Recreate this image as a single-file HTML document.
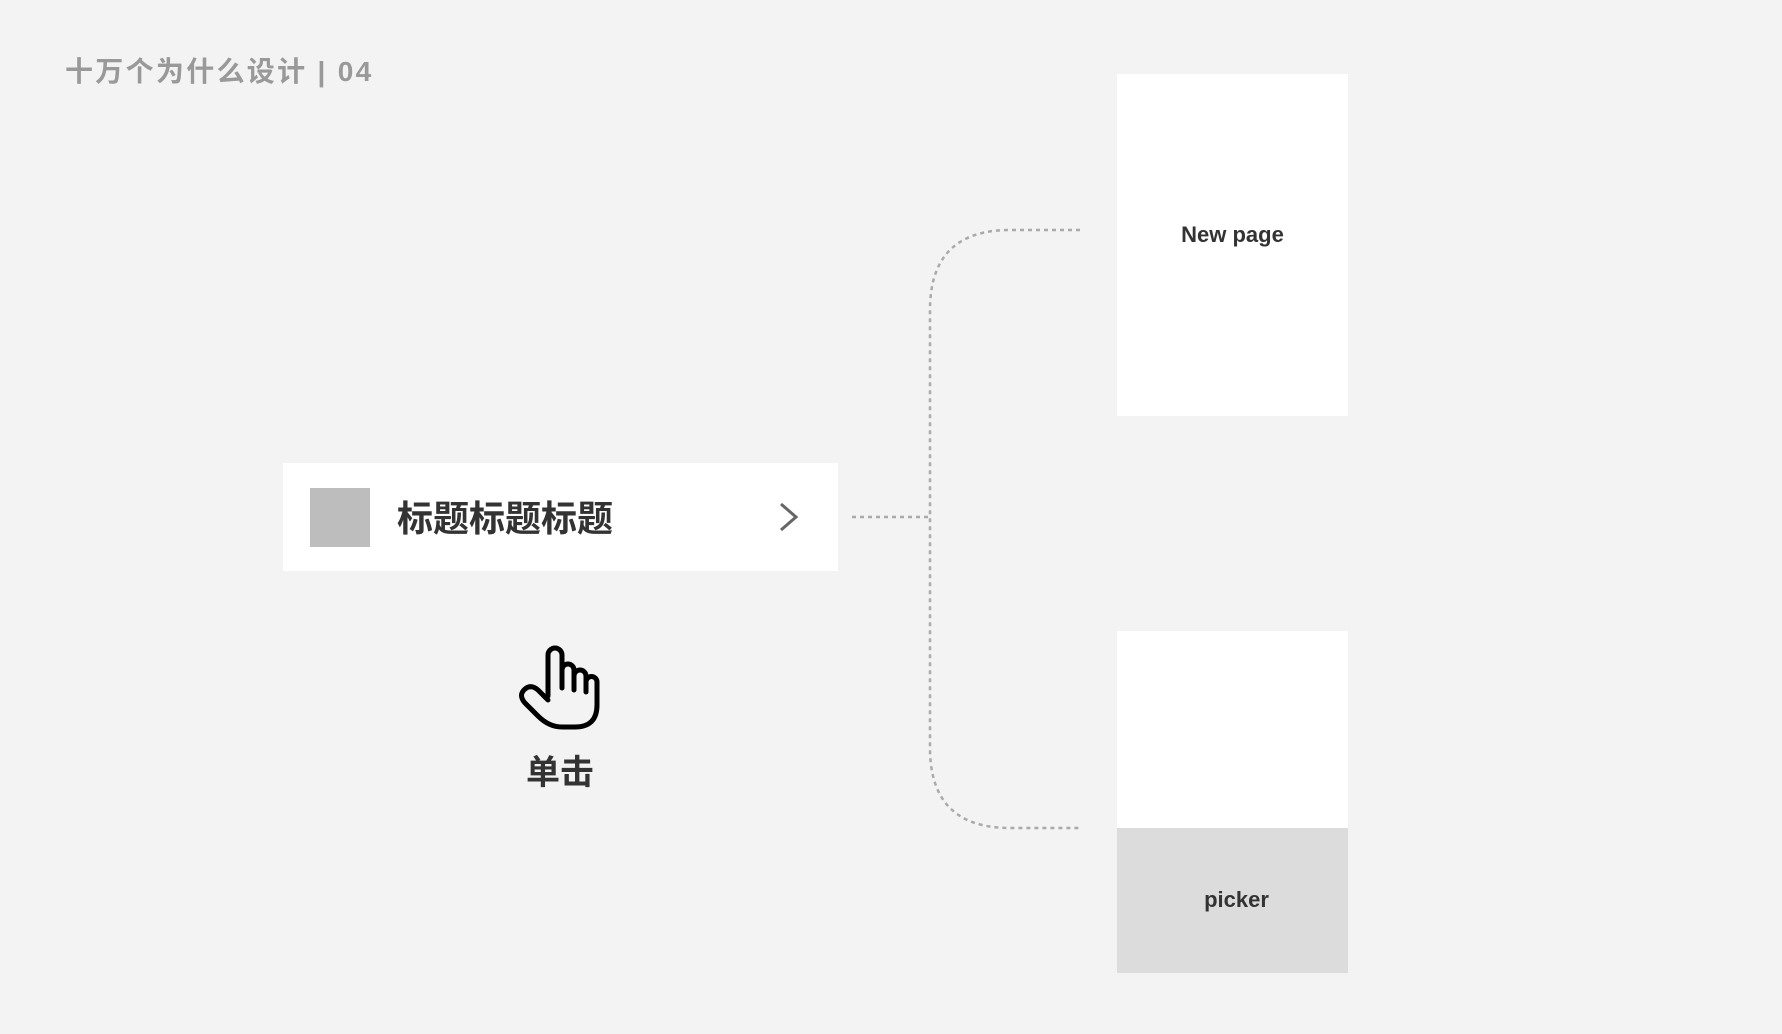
<!DOCTYPE html>
<html><head><meta charset="utf-8"><style>
html,body{margin:0;padding:0}
body{width:1782px;height:1034px;background:#f3f3f3;position:relative;overflow:hidden;font-family:"Liberation Sans","Noto Sans CJK SC",sans-serif}
.abs{position:absolute}
</style></head><body>
<div class="abs" style="left:65px;top:50px;font-size:28px;font-weight:bold;color:#999;letter-spacing:2.3px;font-family:'Liberation Sans','Noto Sans CJK SC',sans-serif;white-space:nowrap">十万个为什么设计 | 04</div>

<div class="abs" style="left:1117px;top:74px;width:231px;height:342px;background:#fff"></div>
<div class="abs" style="left:1117px;top:222px;width:231px;text-align:center;font-size:22px;font-weight:bold;color:#333">New page</div>

<div class="abs" style="left:1117px;top:631px;width:231px;height:197px;background:#fff"></div>
<div class="abs" style="left:1117px;top:828px;width:231px;height:145px;background:#dcdcdc"></div>
<div class="abs" style="left:1121px;top:887px;width:231px;text-align:center;font-size:22px;font-weight:bold;color:#333">picker</div>

<div class="abs" style="left:283px;top:463px;width:555px;height:108px;background:#fff"></div>
<div class="abs" style="left:310px;top:488px;width:60px;height:59px;background:#bdbdbd"></div>
<div class="abs" style="left:397px;top:490px;font-size:36px;font-weight:bold;color:#333;white-space:nowrap">标题标题标题</div>

<svg class="abs" style="left:0;top:0" width="1782" height="1034">
<polyline points="781,504 796,517 781,530" fill="none" stroke="#666" stroke-width="3"/>
<path d="M852,517 L930,517 M1080,230 L1010,230 Q930,230 930,310 L930,748 Q930,828 1010,828 L1080,828" fill="none" stroke="#aaa" stroke-width="2.5" stroke-dasharray="4,4"/>
<path d="M548,696 L548,655 a7,7 0 0 1 14,0 L562,688 M562,670 a6,6 0 0 1 12,0 L574,690 M574,676 a6,6 0 0 1 12,0 L586,692 M586,682 a5.5,5.5 0 0 1 11,0 L597,705 Q597,727 575,727 L562,727 Q549,727 538,716 L525,703 Q518,695 525,689 Q531,684 538,690 L548,700" fill="none" stroke="#000" stroke-width="5" stroke-linecap="round" stroke-linejoin="round"/>
</svg>

<div class="abs" style="left:460px;top:745px;width:200px;text-align:center;font-size:34px;font-weight:bold;color:#333">单击</div>
</body></html>
